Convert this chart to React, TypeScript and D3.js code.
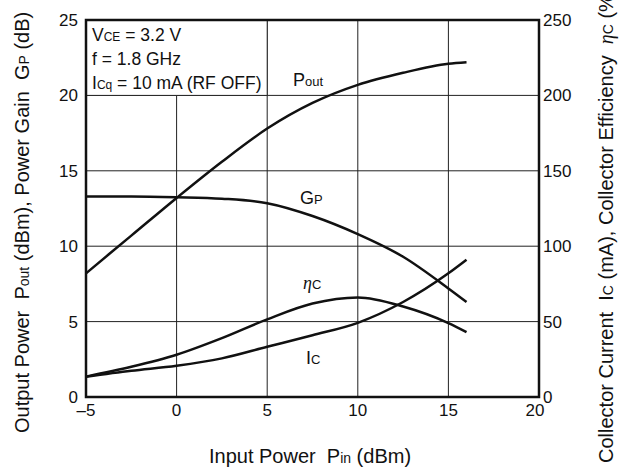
import React from "react";
import * as d3 from "d3";

// input power sweep (dBm)
const pin = [-5, -2.5, 0, 2.5, 5, 7.5, 10, 12.5, 15, 16];
// left axis series
const pout = [8.2, 10.7, 13.2, 15.6, 17.8, 19.5, 20.7, 21.5, 22.1, 22.2];
const gp = [13.3, 13.3, 13.25, 13.15, 12.85, 12.0, 10.8, 9.3, 7.2, 6.3];
// right axis series
const etaC = [13.5, 20, 28, 39, 51.5, 62, 66, 60, 49, 43];
const ic = [13.5, 17.4, 20.7, 25.6, 33.3, 41, 49.2, 63, 82, 91];

const xTicks = [-5, 0, 5, 10, 15, 20];
const yLeftTicks = [0, 5, 10, 15, 20, 25];
const yRightTicks = [0, 50, 100, 150, 200, 250];

const W = 630;
const H = 470;
const FONT = "'Liberation Sans', Arial, Helvetica, sans-serif";
const SERIF = "'Liberation Serif', 'Times New Roman', serif";
const GAP = "\u00a0\u00a0";

export default function App() {
  const x = d3.scaleLinear().domain([-5, 20]).range([86, 539]);
  const yL = d3.scaleLinear().domain([0, 25]).range([397, 20]);
  const yR = d3.scaleLinear().domain([0, 250]).range([397, 20]);

  const lineL = (vals: number[]) =>
    d3
      .line<number>()
      .x((_, i) => x(pin[i]))
      .y((d) => yL(d))
      .curve(d3.curveMonotoneX)(vals) || "";
  const lineR = (vals: number[]) =>
    d3
      .line<number>()
      .x((_, i) => x(pin[i]))
      .y((d) => yR(d))
      .curve(d3.curveMonotoneX)(vals) || "";

  const sub = { fontSize: 12 };
  const tsub = { fontSize: 14 };

  return (
    <svg
      width={W}
      height={H}
      style={{ position: "absolute", left: 0, top: 0, background: "#fff" }}
      fontFamily={FONT}
    >
      {/* grid */}
      <g stroke="#222" strokeWidth={1}>
        {xTicks.map((t) => (
          <line key={"gx" + t} x1={x(t)} x2={x(t)} y1={yL(0)} y2={yL(25)} />
        ))}
        {yLeftTicks.map((t) => (
          <line key={"gy" + t} x1={x(-5)} x2={x(20)} y1={yL(t)} y2={yL(t)} />
        ))}
      </g>

      {/* condition box */}
      <rect
        x={x(-5)}
        y={yL(25)}
        width={x(5) - x(-5)}
        height={yL(20) - yL(25)}
        fill="#fff"
        stroke="#222"
        strokeWidth={1}
      />
      <g fontSize={17.5} fill="#111">
        <text x={92} y={41}>
          V<tspan style={sub}>CE</tspan> = 3.2 V
        </text>
        <text x={92} y={65}>
          f = 1.8 GHz
        </text>
        <text x={92} y={89}>
          I<tspan style={sub}>Cq</tspan> = 10 mA (RF OFF)
        </text>
      </g>

      {/* curves */}
      <g fill="none" stroke="#111" strokeWidth={2.5}>
        <path d={lineL(pout)} />
        <path d={lineL(gp)} />
        <path d={lineR(etaC)} />
        <path d={lineR(ic)} />
      </g>

      {/* curve labels */}
      <g fontSize={18} fill="#111">
        <text x={293} y={86}>
          P<tspan style={{ fontSize: 13 }}>out</tspan>
        </text>
        <text x={300} y={204}>
          G<tspan style={{ fontSize: 13 }}>P</tspan>
        </text>
        <text x={303} y={289}>
          <tspan fontFamily={SERIF} fontStyle="italic">
            η
          </tspan>
          <tspan style={{ fontSize: 13 }}>C</tspan>
        </text>
        <text x={306} y={364}>
          I<tspan style={{ fontSize: 13 }}>C</tspan>
        </text>
      </g>

      {/* frame */}
      <rect
        x={x(-5)}
        y={yL(25)}
        width={x(20) - x(-5)}
        height={yL(0) - yL(25)}
        fill="none"
        stroke="#111"
        strokeWidth={2.5}
      />

      {/* tick labels */}
      <g fontSize={17} fill="#111">
        {yLeftTicks.map((t) => (
          <text key={"yl" + t} x={78} y={yL(t) + 6} textAnchor="end">
            {t}
          </text>
        ))}
        {yRightTicks.map((t) => (
          <text key={"yr" + t} x={543} y={yR(t) + 6}>
            {t}
          </text>
        ))}
        {xTicks.map((t) => (
          <text
            key={"xt" + t}
            x={t === 20 ? x(t) - 4 : x(t)}
            y={416}
            textAnchor="middle"
          >
            {t < 0 ? "\u2013" + Math.abs(t) : t}
          </text>
        ))}
      </g>

      {/* axis titles */}
      <g fontSize={20} fill="#111">
        <text x={310} y={463} textAnchor="middle">
          {"Input Power" + GAP + "P"}
          <tspan style={tsub}>in</tspan> (dBm)
        </text>
        <text transform="translate(29,433) rotate(-90)">
          {"Output Power" + GAP + "P"}
          <tspan style={tsub}>out</tspan>
          {" (dBm), Power Gain" + GAP + "G"}
          <tspan style={tsub}>P</tspan> (dB)
        </text>
        <text transform="translate(613,463) rotate(-90)">
          {"Collector Current" + GAP + "I"}
          <tspan style={tsub}>C</tspan>
          {" (mA), Collector Efficiency" + GAP}
          <tspan fontFamily={SERIF} fontStyle="italic">
            η
          </tspan>
          <tspan style={tsub}>C</tspan> (%)
        </text>
      </g>
    </svg>
  );
}
